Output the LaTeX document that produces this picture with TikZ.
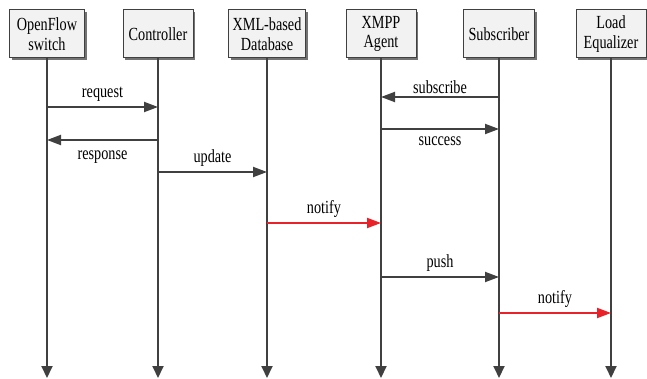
\documentclass[tikz,border=0pt]{standalone}
\usepackage{fontspec}
\setmainfont{Liberation Serif}[FakeStretch=0.77]
\usepackage{tikz}
\usetikzlibrary{arrows.meta,%
                shadows}
\definecolor{linegray}{HTML}{404040}
\definecolor{boxgray}{HTML}{F2F2F2}
\definecolor{msgred}{HTML}{E82228}

\begin{document}
\begin{tikzpicture}[x=1pt,y=-1pt,
	font=\fontsize{18.5}{19.5}\selectfont,
	party/.style={draw=linegray,fill=boxgray,line width=1pt,minimum height=48pt,
		minimum width=70pt,align=center,inner sep=2pt,
		drop shadow={shadow xshift=2pt,shadow yshift=-2pt,fill=black!55,opacity=1}},
	life/.style={draw=linegray,line width=2pt,-{Triangle[length=12pt,width=11pt]}},
	msg/.style={draw=linegray,line width=2pt,-{Triangle[length=14pt,width=10pt]}},
	redmsg/.style={msg,draw=msgred,fill=msgred}]
	\useasboundingbox (0,0) rectangle (647,379);
	%\draw[help lines] (0,0) grid (647,379);
	\node[party,minimum width=75pt] (sw) at (47,34) {OpenFlow\\switch};
	\node[party] (ctl) at (158,34) {Controller};
	\node[party,minimum width=77pt] (db) at (267,34) {XML-based\\Database};
	\node[party] (xmpp) at (381,34) {XMPP\\Agent};
	\node[party,minimum width=71pt] (sub) at (499,34) {Subscriber};
	\node[party] (lb) at (611,34) {Load\\Equalizer};
	\coordinate (bot) at (0,378);
	% lifelines
	\draw[life] (sw.south) -- (sw |- bot);
	\draw[life] (ctl.south) -- (ctl |- bot);
	\draw[life] (db.south) -- (db |- bot);
	\draw[life] (xmpp.south) -- (xmpp |- bot);
	\draw[life] (sub.south) -- (sub |- bot);
	\draw[life] (lb.south) -- (lb |- bot);
	% messages
	\draw[msg] (sw |- 0,107) -- node[above=1pt] (request) {request} (ctl |- 0,107);
	\draw[msg] (ctl |- 0,140) -- node[below=6pt] (response) {response} (sw |- 0,140);
	\draw[msg] (ctl |- 0,172) -- node[above=1pt] (update) {update} (db |- 0,172);
	\draw[redmsg] (db |- 0,223) -- node[above=1pt,text=black] (notifyA) {notify} (xmpp |- 0,223);
	\draw[msg] (sub |- 0,97) -- node[above=-1pt] (subscribe) {subscribe} (xmpp |- 0,97);
	\draw[msg] (xmpp |- 0,129) -- node[below=3pt] (success) {success} (sub |- 0,129);
	\draw[msg] (xmpp |- 0,277) -- node[above=1pt] (push) {push} (sub |- 0,277);
	\draw[redmsg] (sub |- 0,313) -- node[above=1pt,text=black] (notifyB) {notify} (lb |- 0,313);
\end{tikzpicture}
\end{document}
